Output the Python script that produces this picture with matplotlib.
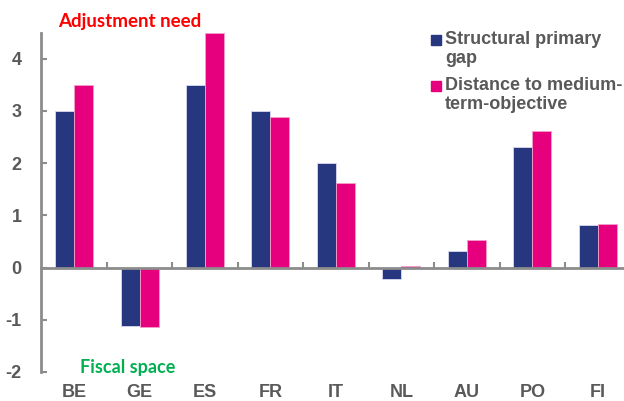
import matplotlib
matplotlib.use("Agg")
import matplotlib.pyplot as plt
from matplotlib.patches import Rectangle
import numpy as np

categories = ["BE", "GE", "ES", "FR", "IT", "NL", "AU", "PO", "FI"]
structural_gap = [3.0, -1.11, 3.5, 3.0, 2.0, -0.21, 0.31, 2.31, 0.81]
distance_mto = [3.49, -1.13, 4.5, 2.89, 1.62, 0.03, 0.53, 2.61, 0.84]
series_labels = ["Structural primary\ngap", "Distance to medium-\nterm-objective"]
y_ticks = [-2, -1, 0, 1, 2, 3, 4]

BLUE = "#26377F"
PINK = "#E6007E"
GRAY = "#595959"
AXC = "#8C8C8C"

plt.rcParams['font.family'] = ['Liberation Sans', 'DejaVu Sans']

fig = plt.figure(figsize=(6.24, 4.01), dpi=100)
ax = fig.add_axes([41.3/624, 29/401, (630.6-41.3)/624, (372-32.6)/401])

x = np.arange(len(categories))
w = 0.29
ax.bar(x - w/2, structural_gap, w, color=BLUE, edgecolor="#D9D9F0", linewidth=0.6, zorder=2)
ax.bar(x + w/2, distance_mto, w, color=PINK, edgecolor="#F5A0CC", linewidth=0.6, zorder=2)

ax.set_xlim(-0.5, len(categories) - 0.5)
ax.set_ylim(-2, 4.5)

for s in ["top", "right"]:
    ax.spines[s].set_visible(False)
ax.spines["left"].set_color(AXC)
ax.spines["left"].set_linewidth(2)
ax.spines["bottom"].set_position(("data", 0))
ax.spines["bottom"].set_color(AXC)
ax.spines["bottom"].set_linewidth(2)

ax.set_yticks(y_ticks)
ax.set_yticklabels([str(t) for t in y_ticks], fontsize=13, fontweight="bold", color=GRAY)
ax.tick_params(axis="y", direction="in", length=4, width=1.5, color=AXC, pad=14)

ax.set_xticks(np.arange(len(categories) - 1) + 0.5)
ax.set_xticklabels([])
ax.tick_params(axis="x", direction="in", length=4, width=1.5, color=AXC)

sec = ax.secondary_xaxis("bottom")
sec.set_xticks(x)
sec.set_xticklabels(categories, fontsize=13, fontweight="bold", color=GRAY)
sec.tick_params(length=0, pad=8.5)
sec.spines["bottom"].set_visible(False)

ax.text(58/624, 1 - 22/401, "Adjustment need", transform=fig.transFigure, ha="left", va="center",
        color="#FF0000", fontsize=13.5, fontweight="bold", family=["Lato", "DejaVu Sans"])
ax.text(80/624, 1 - 368/401, "Fiscal space", transform=fig.transFigure, ha="left", va="center",
        color="#00B050", fontsize=13, fontweight="bold", family=["Lato", "DejaVu Sans"])

# legend
leg_y = [40, 86]
for yy, col, lab in zip(leg_y, [BLUE, PINK], series_labels):
    fig.patches.append(Rectangle((431/624, 1 - (yy + 5)/401), 10/624, 10/401,
                                 transform=fig.transFigure, color=col, figure=fig))
    fig.text(445/624, 1 - (yy - 9)/401, lab, ha="left", va="top", fontsize=13,
             fontweight="bold", color=GRAY, linespacing=1.15)

fig.savefig("out.png", dpi=100)
